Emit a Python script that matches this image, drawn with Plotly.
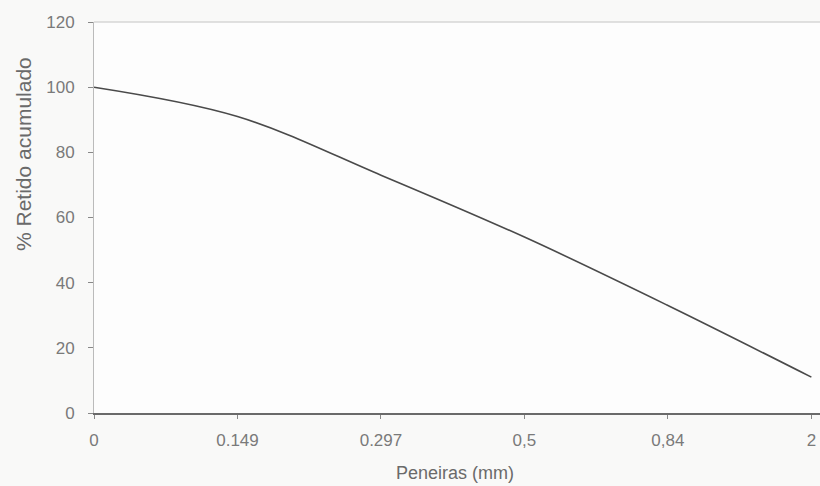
import plotly.graph_objects as go

categories = ["0", "0.149", "0.297", "0,5", "0,84", "2"]
retido_acumulado = [100, 91, 73, 54, 33, 11]
y_ticks = [0, 20, 40, 60, 80, 100, 120]

L, T, B = 94, 22, 73
W, H = 820, 486
plot_h = H - T - B
plot_w = W - L

fig = go.Figure()
fig.add_trace(go.Scatter(
    x=list(range(len(categories))),
    y=retido_acumulado,
    mode="lines",
    line=dict(color="#4a4a4a", width=1.6, shape="spline", smoothing=1.0),
    showlegend=False,
    hoverinfo="skip",
))

fig.update_layout(
    width=W, height=H,
    margin=dict(l=L, r=0, t=T, b=B),
    paper_bgcolor="#f9f9f8",
    plot_bgcolor="#fdfdfd",
    font=dict(family="Liberation Sans, Arial, sans-serif", color="#777777", size=17),
    xaxis=dict(
        range=[0, 5.06],
        tickmode="array",
        tickvals=list(range(len(categories))),
        ticktext=categories,
        showgrid=False,
        zeroline=False,
        showline=True,
        linecolor="#6a6a6a",
        linewidth=1.5,
        ticks="outside",
        ticklen=4,
        tickcolor="#888888",
        ticklabelstandoff=7,
        ticklabeloverflow="allow",
        automargin=False,
        tickfont=dict(size=17, color="#7a7a7a"),
    ),
    yaxis=dict(
        range=[0, 120],
        tickmode="array",
        tickvals=y_ticks,
        showgrid=False,
        zeroline=False,
        showline=True,
        linecolor="#bbbbbb",
        linewidth=1,
        ticks="outside",
        ticklen=5,
        tickcolor="#888888",
        ticklabelstandoff=10,
        automargin=False,
        tickfont=dict(size=17, color="#7a7a7a"),
    ),
    shapes=[dict(type="line", xref="paper", yref="paper", x0=0, x1=1, y0=1, y1=1,
                 line=dict(color="#c4c4c4", width=1))],
    annotations=[
        dict(text="% Retido acumulado", xref="paper", yref="paper",
             x=-(L - 23) / plot_w, y=(H - B - 154) / plot_h, textangle=-90,
             xanchor="center", yanchor="middle", showarrow=False,
             font=dict(size=21, color="#6a6a6a")),
        dict(text="Peneiras (mm)", xref="paper", yref="paper",
             x=(455 - L) / plot_w, y=-(461 - (H - B)) / plot_h,
             xanchor="center", yanchor="top", showarrow=False,
             font=dict(size=18, color="#6a6a6a")),
    ],
)

fig.write_html("out.html", config={"displayModeBar": False},
               post_script="document.body.style.margin='0';")
